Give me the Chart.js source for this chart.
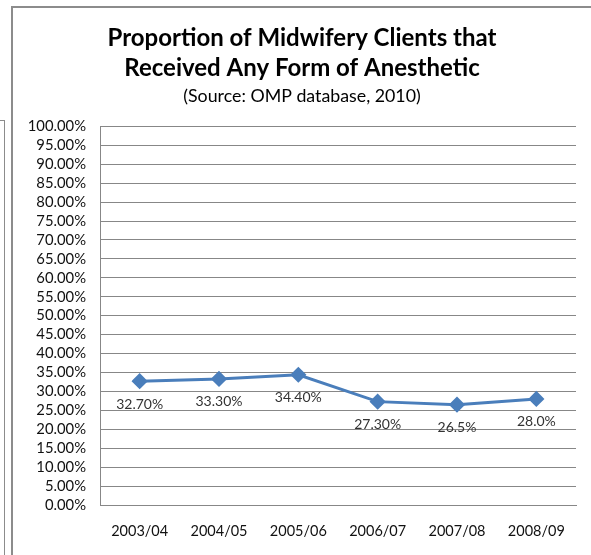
<!DOCTYPE html>
<html>
<head>
<meta charset="utf-8">
<script src="https://cdn.jsdelivr.net/npm/chart.js@4.4.1/dist/chart.umd.min.js"></script>
<style>
  html, body { margin: 0; padding: 0; background: #fff; }
  body { width: 591px; height: 555px; position: relative; overflow: hidden; }
  #side { position: absolute; left: -2px; top: 120px; width: 5px; height: 500px; border: 1px solid #8c8c8c; }
  #frame { position: absolute; left: 11px; top: 6px; width: 600px; height: 600px; border: 1px solid #8c8c8c; border-width: 2px 0 0 2px; }
  #wrap { position: absolute; left: 0; top: 0; width: 591px; height: 555px; }
</style>
</head>
<body>
<div id="side"></div>
<div id="frame"></div>
<div id="wrap"><canvas id="canvas"></canvas></div>
<script>
// data
var years = ["2003/04", "2004/05", "2005/06", "2006/07", "2007/08", "2008/09"];
var anesthetic = [32.7, 33.3, 34.4, 27.3, 26.5, 28.0];
var pointLabels = ["32.70%", "33.30%", "34.40%", "27.30%", "26.5%", "28.0%"];

var fontName = "Lato, 'Open Sans', sans-serif";

// write the value under every point
var labelPlugin = {
  id: 'pointLabels',
  afterDatasetsDraw: function(chart) {
    var ctx = chart.ctx;
    var meta = chart.getDatasetMeta(0);
    ctx.save();
    ctx.font = "14px " + fontName;
    ctx.fillStyle = "#333";
    ctx.textAlign = "center";
    ctx.textBaseline = "middle";
    meta.data.forEach(function(pt, i) {
      ctx.fillText(pointLabels[i], pt.x, pt.y + 23);
    });
    ctx.restore();
  }
};

var ctx = document.getElementById("canvas").getContext("2d");
var chart = new Chart(ctx, {
  type: 'line',
  data: {
    labels: years,
    datasets: [{
      data: anesthetic,
      borderColor: "#4a7ebb",
      backgroundColor: "#4a7ebb",
      borderWidth: 3,
      pointStyle: 'rectRot',
      pointRadius: 6,
      pointHoverRadius: 6,
      tension: 0
    }]
  },
  options: {
    responsive: true,
    maintainAspectRatio: false,
    animation: false,
    events: [],
    layout: { padding: { left: 28, right: 15, top: 8, bottom: 10 } },
    plugins: {
      legend: { display: false },
      tooltip: { enabled: false },
      title: {
        display: true,
        text: ["Proportion of Midwifery Clients that", "Received Any Form of Anesthetic"],
        color: "#000",
        font: { family: fontName, size: 24, weight: 'bold', lineHeight: 30 / 24 },
        padding: { top: 15, bottom: 0 }
      },
      subtitle: {
        display: true,
        text: "(Source: OMP database, 2010)",
        color: "#000",
        font: { family: fontName, size: 17.8, lineHeight: 1.2 },
        padding: { top: 3, bottom: 19 }
      }
    },
    scales: {
      x: {
        offset: true,
        grid: { display: false, drawTicks: false },
        border: { color: "#878787", width: 1 },
        ticks: { color: "#111", autoSkip: false, maxRotation: 0, font: { family: fontName, size: 14.5 }, padding: 18 },
        afterFit: function(s) { s.height = 40; }
      },
      y: {
        min: 0,
        max: 100,
        grid: { color: "#878787", drawTicks: false },
        border: { color: "#878787", width: 1 },
        ticks: {
          stepSize: 5,
          autoSkip: false,
          color: "#111",
          padding: 14,
          font: { family: fontName, size: 14.8 },
          callback: function(v) { return v.toFixed(2) + "%"; }
        },
        afterFit: function(s) { s.width = 72; }
      }
    }
  },
  plugins: [labelPlugin]
});
</script>
</body>
</html>
